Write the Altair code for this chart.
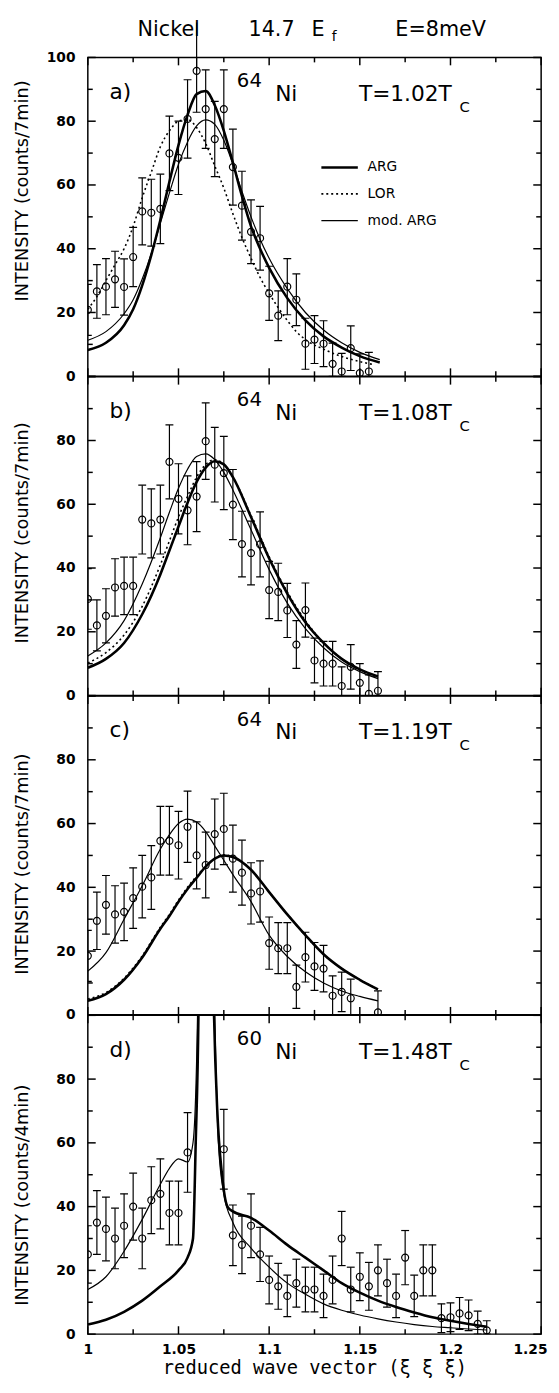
import altair as alt
import pandas as pd

FONT = "DejaVu Sans"
MONO = "DejaVu Sans Mono"

# ---------------- panel a : 64Ni, T = 1.02 Tc (counts / 7 min) ----------------
XA = [1.000, 1.005, 1.010, 1.015, 1.020, 1.025, 1.030, 1.035, 1.040, 1.045, 1.050,
      1.055, 1.060, 1.065, 1.070, 1.075, 1.080, 1.085, 1.090, 1.095, 1.100, 1.105,
      1.110, 1.115, 1.120, 1.125, 1.130, 1.135, 1.140, 1.145, 1.150, 1.155]
VA = [20.8, 26.6, 28.1, 30.4, 28.0, 37.4, 51.7, 51.3, 52.5, 69.9, 68.5,
      80.7, 95.8, 83.8, 74.4, 83.8, 65.6, 53.5, 45.3, 43.3, 26.0, 19.0,
      28.1, 24.0, 10.2, 11.5, 10.2, 3.9, 1.5, 8.8, 1.0, 1.5]
EA = [8.0, 8.4, 8.8, 8.8, 8.8, 9.3, 10.5, 10.5, 10.9, 11.7, 11.5,
      12.3, 13.0, 12.3, 11.8, 12.3, 11.9, 10.8, 10.0, 10.0, 8.5, 7.8,
      8.8, 8.1, 8.0, 7.5, 7.2, 6.5, 5.7, 7.0, 6.0, 6.0]
A_GRID = [1.000, 1.010, 1.020, 1.025, 1.030, 1.035, 1.040, 1.045, 1.050, 1.055, 1.060,
          1.065, 1.070, 1.075, 1.080, 1.085, 1.090, 1.095, 1.100, 1.110, 1.120, 1.130,
          1.140, 1.150, 1.161]
A_ARG = [8.2, 10.5, 16.0, 21.0, 28.5, 38.0, 49.0, 61.0, 72.5, 82.0, 88.5,
         89.5, 85.0, 77.0, 67.0, 56.5, 47.0, 40.0, 34.0, 24.5, 17.5, 12.5,
         9.0, 6.3, 4.3]
A_MOD = [11.3, 14.0, 19.6, 24.0, 30.5, 38.5, 48.0, 57.5, 66.5, 73.5, 78.5,
         80.4, 79.0, 74.0, 66.5, 58.0, 50.0, 43.0, 37.0, 27.5, 20.0, 14.5,
         10.5, 7.5, 5.2]
A_LOR_X = [1.000, 1.005, 1.010, 1.015, 1.020, 1.025, 1.030, 1.035, 1.040, 1.045,
           1.050, 1.055, 1.060, 1.065, 1.070, 1.075, 1.080, 1.085, 1.090, 1.095,
           1.100, 1.105, 1.110, 1.115, 1.120, 1.130, 1.140, 1.150, 1.158]
A_LOR = [21, 25, 30, 35, 40, 47, 56, 64, 72, 77,
         80, 80.5, 78, 73, 66, 59, 51, 43.5, 37, 31,
         26, 21.5, 17.5, 14, 11.5, 8.5, 6.2, 4.6, 3.6]

# ---------------- panel b : 64Ni, T = 1.08 Tc ----------------
XB = [1.000, 1.005, 1.010, 1.015, 1.020, 1.025, 1.030, 1.035, 1.040, 1.045, 1.050,
      1.055, 1.060, 1.065, 1.070, 1.075, 1.080, 1.085, 1.090, 1.095, 1.100, 1.105,
      1.110, 1.115, 1.120, 1.125, 1.130, 1.135, 1.140, 1.145, 1.150, 1.155, 1.160]
VB = [30.3, 22.0, 25.0, 33.9, 34.4, 34.4, 55.2, 54.0, 55.2, 73.3, 61.7,
      58.1, 62.4, 79.8, 72.4, 69.8, 59.9, 47.5, 44.7, 47.4, 33.1, 32.5,
      26.7, 16.0, 26.8, 11.0, 10.0, 10.0, 3.0, 9.0, 4.0, 0.5, 1.5]
EB = [9.5, 8.0, 8.5, 9.0, 9.0, 9.0, 10.8, 10.8, 10.8, 11.6, 11.0,
      10.8, 11.0, 12.0, 11.7, 11.5, 11.0, 10.3, 10.0, 10.2, 9.0, 9.0,
      8.5, 7.5, 8.5, 7.0, 7.0, 7.0, 6.0, 7.0, 6.0, 6.0, 6.0]
BC_GRID = [1.000, 1.010, 1.020, 1.030, 1.040, 1.045, 1.050, 1.055, 1.060, 1.065, 1.070,
           1.075, 1.080, 1.090, 1.100, 1.110, 1.120, 1.130, 1.140, 1.150, 1.160]
B_ARG = [8.7, 11.5, 16.5, 25.5, 38.0, 45.5, 53.0, 60.5, 67.0, 71.5, 73.5,
         72.5, 68.5, 56.0, 43.0, 32.0, 23.0, 16.5, 11.5, 8.2, 6.0]
B_LOR = [10.2, 13.5, 19.0, 28.0, 41.0, 48.5, 56.0, 62.5, 68.5, 72.5, 74.0,
         72.5, 68.5, 56.5, 43.5, 32.5, 23.5, 16.5, 11.5, 8.0, 5.6]
B_MOD = [12.4, 16.5, 23.5, 35.0, 49.5, 57.5, 65.0, 71.0, 75.0, 75.8, 74.0,
         70.0, 64.5, 52.0, 39.5, 29.0, 21.0, 15.0, 10.5, 7.5, 5.3]

# ---------------- panel c : 64Ni, T = 1.19 Tc ----------------
XC = [1.000, 1.005, 1.010, 1.015, 1.020, 1.025, 1.030, 1.035, 1.040, 1.045, 1.050,
      1.055, 1.060, 1.065, 1.070, 1.075, 1.080, 1.085, 1.090, 1.095, 1.100, 1.105,
      1.110, 1.115, 1.120, 1.125, 1.130, 1.135, 1.140, 1.145, 1.160]
VC = [18.5, 29.5, 34.5, 31.5, 32.3, 36.6, 40.2, 43.1, 54.6, 54.6, 53.2,
      59.0, 50.0, 47.0, 56.7, 58.3, 49.0, 44.6, 38.1, 38.7, 22.5, 20.9,
      20.9, 8.8, 18.1, 15.2, 14.5, 6.0, 7.2, 5.2, 0.8]
EC = [8.0, 9.0, 9.2, 9.0, 9.0, 9.5, 9.8, 10.0, 10.8, 10.8, 10.6,
      11.2, 10.5, 10.3, 11.0, 11.2, 10.5, 10.2, 9.6, 9.6, 8.2, 8.0,
      8.0, 6.8, 7.8, 7.5, 7.3, 6.2, 6.2, 6.0, 6.7]
C_ARG = [4.4, 6.5, 11.0, 18.0, 27.0, 31.0, 35.5, 39.5, 43.0, 46.5, 49.0,
         50.0, 49.5, 45.5, 38.5, 31.5, 25.0, 19.0, 14.5, 11.0, 8.0]
C_LOR = [5.0, 7.0, 11.5, 18.5, 27.5, 31.5, 36.0, 40.0, 43.5, 46.5, 49.0,
         50.2, 49.5, 45.5, 38.5, 31.5, 25.0, 19.0, 14.5, 11.0, 8.0]
C_MOD = [13.7, 19.5, 30.0, 40.5, 52.0, 56.5, 60.0, 61.4, 60.5, 57.5, 53.0,
         48.5, 44.0, 35.5, 25.0, 18.3, 13.5, 10.0, 7.5, 5.8, 4.4]

# ---------------- panel d : 60Ni, T = 1.48 Tc (counts / 4 min) ----------------
XD = [1.000, 1.005, 1.010, 1.015, 1.020, 1.025, 1.030, 1.035, 1.040, 1.045, 1.050, 1.055,
      1.075, 1.080, 1.085, 1.090, 1.095, 1.100, 1.105, 1.110, 1.115, 1.120, 1.125, 1.130,
      1.135, 1.140, 1.145, 1.150, 1.155, 1.160, 1.165, 1.170, 1.175, 1.180, 1.185, 1.190,
      1.195, 1.200, 1.205, 1.210, 1.215, 1.220]
VD = [25, 35, 33, 30, 34, 40, 30, 42, 44, 38, 38, 57,
      58, 31, 28, 34, 25, 17, 15, 12, 16, 14, 14, 12,
      17, 30, 14, 18, 15, 20, 16, 12, 24, 12, 20, 20,
      5, 5.3, 6.5, 5.9, 3.2, 1.2]
ED = [9, 10, 10, 9.5, 10, 10.5, 9.5, 10.5, 11, 10, 10, 12.5,
      12.5, 9.5, 9, 10, 8.5, 7.5, 7.2, 6.5, 7.5, 7, 7, 6.8,
      7.5, 8.5, 7, 7.5, 7.5, 8, 7.5, 6.8, 8.5, 6.5, 8, 8,
      4.5, 4.5, 5, 4.8, 4, 3]
D_ARG_X = [1.000, 1.010, 1.020, 1.030, 1.040, 1.050, 1.055, 1.058, 1.0595, 1.061, 1.063,
           1.066, 1.0696, 1.0714, 1.074, 1.077, 1.080, 1.090, 1.100, 1.110, 1.120, 1.130,
           1.140, 1.150, 1.160, 1.170, 1.180, 1.190, 1.200, 1.210, 1.220]
D_ARG = [3, 4.5, 7, 10.5, 15, 20, 24, 30, 60, 100, 250,
         250, 100, 70, 50, 40, 38.5, 36.5, 32.5, 28, 24, 20,
         16, 13, 10.5, 8.5, 6.8, 5.3, 4.2, 3.2, 2.3]
D_MOD_X = [1.000, 1.010, 1.020, 1.030, 1.040, 1.045, 1.050, 1.055, 1.058, 1.0605, 1.063,
           1.066, 1.070, 1.072, 1.075, 1.080, 1.090, 1.100, 1.110, 1.120, 1.130, 1.140,
           1.150, 1.160, 1.170, 1.180, 1.190, 1.200, 1.210, 1.220]
D_MOD = [14, 18, 26, 36, 47, 52, 55, 54, 60, 100, 250,
         250, 100, 60, 44, 35, 27, 21, 16, 12.5, 9.5, 7.5,
         6, 4.8, 3.8, 3, 2.4, 2, 1.6, 1.3]

FITS = ["ARG", "LOR", "mod. ARG"]
X_MAJ = [1.0, 1.05, 1.1, 1.15, 1.2, 1.25]
X_MIN = [1.025, 1.075, 1.125, 1.175, 1.225]
Y_MAJ = [0, 20, 40, 60, 80, 100]
Y_MIN = [10, 30, 50, 70, 90]

W = 460
H = 323.5
MAJ_LEN = 8
MIN_LEN = 5
XS = alt.Scale(domain=[1.0, 1.25], nice=False, zero=False)
YS = alt.Scale(domain=[0, 100], nice=False, zero=False)
STYLE = {
    "ARG": dict(strokeWidth=2.6),
    "LOR": dict(strokeWidth=1.6, strokeDash=[2, 3]),
    "mod. ARG": dict(strokeWidth=1.2),
}
DUMMY = pd.DataFrame({"n": [0]})


def ylab_axis(title, values, title_y):
    return alt.Axis(orient="left", values=values, ticks=False, tickSize=0, domain=False,
                    grid=False, labelPadding=13, labelFont=FONT, labelFontSize=14,
                    labelFontWeight="bold", labelColor="black", labelFlush=False,
                    labelOverlap=False, title=title, titleFont=FONT, titleFontSize=18,
                    titleFontWeight="normal", titleColor="black", titleX=-66,
                    titleY=title_y, titleAngle=270, titleAlign="center",
                    titleBaseline="middle")


XLAB = alt.Axis(orient="bottom", values=X_MAJ, format="~g", ticks=False, tickSize=0,
                domain=False, grid=False, labelPadding=9, labelFont=FONT,
                labelFontSize=14, labelFontWeight="bold", labelColor="black",
                labelFlush=False, labelOverlap=False,
                labelAlign={"condition": {"test": "datum.value > 1.24", "value": "right"},
                            "value": "center"},
                labelOffset={"condition": {"test": "datum.value > 1.24", "value": 6},
                             "value": 0},
                title="reduced wave vector (ξ ξ ξ)", titleFont=MONO, titleFontSize=19,
                titleFontWeight="normal", titleColor="black", titlePadding=2)


def txt(text, x, y, size, align="left"):
    return alt.Chart(DUMMY).mark_text(
        text=text, font=FONT, fontSize=size, align=align, baseline="middle",
        color="black").encode(
        x=alt.XDatum(x, type="quantitative", scale=XS, axis=None),
        y=alt.YDatum(y, type="quantitative", scale=YS, axis=None))


def inward_ticks():
    """Frame ticks pointing into the plot, on all four edges."""
    out = []
    for vals, ln in ((X_MAJ, MAJ_LEN), (X_MIN, MIN_LEN)):
        df = pd.DataFrame({"t": vals})
        for y0, y1 in ((H, H - ln), (0, ln)):
            out.append(alt.Chart(df).mark_rule(color="black", strokeWidth=1.5).encode(
                x=alt.X("t:Q", scale=XS, axis=None),
                y=alt.value(y0), y2=alt.value(y1)))
    for vals, ln in ((Y_MAJ, MAJ_LEN), (Y_MIN, MIN_LEN)):
        df = pd.DataFrame({"t": vals})
        for x0, x1 in ((0, ln), (W, W - ln)):
            out.append(alt.Chart(df).mark_rule(color="black", strokeWidth=1.5).encode(
                y=alt.Y("t:Q", scale=YS, axis=None),
                x=alt.value(x0), x2=alt.value(x1)))
    return out


def panel(xs, vs, es, curves, letter, iso, temp, ytitle, ylabels, title_y,
          bottom=False, extra=()):
    pts = pd.DataFrame({"x": xs, "v": vs, "e": es})
    base = alt.Chart(pts).transform_calculate(
        lo="max(0, datum.v - datum.e)", hi="datum.v + datum.e")
    bars = base.mark_rule(color="black", strokeWidth=1.2, clip=True).encode(
        x=alt.X("x:Q", scale=XS, axis=XLAB if bottom else None),
        y=alt.Y("lo:Q", scale=YS, axis=ylab_axis(ytitle, ylabels, title_y)),
        y2="hi:Q")
    caps = []
    for fld in ("lo", "hi"):
        caps.append(base.mark_tick(orient="horizontal", size=8, thickness=1.2,
                                   color="black", opacity=1, clip=True).encode(
            x=alt.X("x:Q", scale=XS, axis=None),
            y=alt.Y(f"{fld}:Q", scale=YS, axis=None)))
    dots = alt.Chart(pts).mark_point(shape="circle", size=50, filled=False,
                                     color="black", strokeWidth=1.2, opacity=1,
                                     clip=True).encode(
        x=alt.X("x:Q", scale=XS, axis=None),
        y=alt.Y("v:Q", scale=YS, axis=None))
    layers = [bars] + caps + [dots]
    for fit, (cx, cy) in curves.items():
        layers.append(
            alt.Chart(pd.DataFrame({"x": cx, "y": cy})).mark_line(
                color="black", clip=True, interpolate="monotone", **STYLE[fit]).encode(
                x=alt.X("x:Q", scale=XS, axis=None),
                y=alt.Y("y:Q", scale=YS, axis=None)))
    layers += inward_ticks()
    layers += [
        txt(letter, 1.012, 89.2, 22),
        txt(iso, 1.0891, 92.6, 20, align="center"),
        txt("Ni", 1.1033, 88.6, 22),
        txt(temp, 1.1495, 88.6, 22),
        txt("C", 1.2050, 84.5, 15),
    ]
    layers += list(extra)
    return alt.layer(*layers).resolve_axis(
        x="independent", y="independent").properties(width=W, height=H)


# legend + header of panel a
LEG_Y = {"ARG": 65.5, "LOR": 57.2, "mod. ARG": 48.8}
extra_a = []
for fit in FITS:
    extra_a.append(
        alt.Chart(DUMMY).mark_rule(color="black", **STYLE[fit]).encode(
            x=alt.XDatum(1.1288, type="quantitative", scale=XS, axis=None),
            x2=alt.X2Datum(1.1489),
            y=alt.YDatum(LEG_Y[fit], type="quantitative", scale=YS, axis=None)))
    extra_a.append(txt(fit, 1.1543, LEG_Y[fit], 14))
extra_a += [
    txt("Nickel", 1.0446, 108.7, 21, align="center"),
    txt("14.7", 1.0886, 108.7, 21),
    txt("E", 1.1234, 108.7, 21),
    txt("f", 1.1345, 106.4, 14),
    txt("E=8meV", 1.1696, 108.7, 21),
    alt.Chart(DUMMY).mark_rule(color="black", strokeWidth=1.2).encode(
        x=alt.XDatum(1.060, type="quantitative", scale=XS, axis=None),
        y=alt.YDatum(95.8, type="quantitative", scale=YS, axis=None),
        y2=alt.Y2Datum(111)),
]

pa = panel(XA, VA, EA, {"ARG": (A_GRID, A_ARG), "LOR": (A_LOR_X, A_LOR),
                        "mod. ARG": (A_GRID, A_MOD)},
           "a)", "64", "T=1.02T", "INTENSITY (counts/7min)",
           [0, 20, 40, 60, 80, 100], 135, extra=extra_a)
pb = panel(XB, VB, EB, {"ARG": (BC_GRID, B_ARG), "LOR": (BC_GRID, B_LOR),
                        "mod. ARG": (BC_GRID, B_MOD)},
           "b)", "64", "T=1.08T", "INTENSITY (counts/7min)",
           [0, 20, 40, 60, 80], 158)
pc = panel(XC, VC, EC, {"ARG": (BC_GRID, C_ARG), "LOR": (BC_GRID, C_LOR),
                        "mod. ARG": (BC_GRID, C_MOD)},
           "c)", "64", "T=1.19T", "INTENSITY (counts/7min)",
           [0, 20, 40, 60, 80], 170)
pdd = panel(XD, VD, ED, {"ARG": (D_ARG_X, D_ARG), "mod. ARG": (D_MOD_X, D_MOD)},
            "d)", "60", "T=1.48T", "INTENSITY (counts/4min)",
            [0, 20, 40, 60, 80], 182, bottom=True)

chart = alt.vconcat(pa, pb, pc, pdd, spacing=0, bounds="flush").configure_view(
    stroke="black", strokeWidth=1.5).properties(
    padding={"left": 5, "right": 3, "top": 0, "bottom": 0}, background="white")

chart.save("out.html", embed_options={"renderer": "svg", "actions": False})
